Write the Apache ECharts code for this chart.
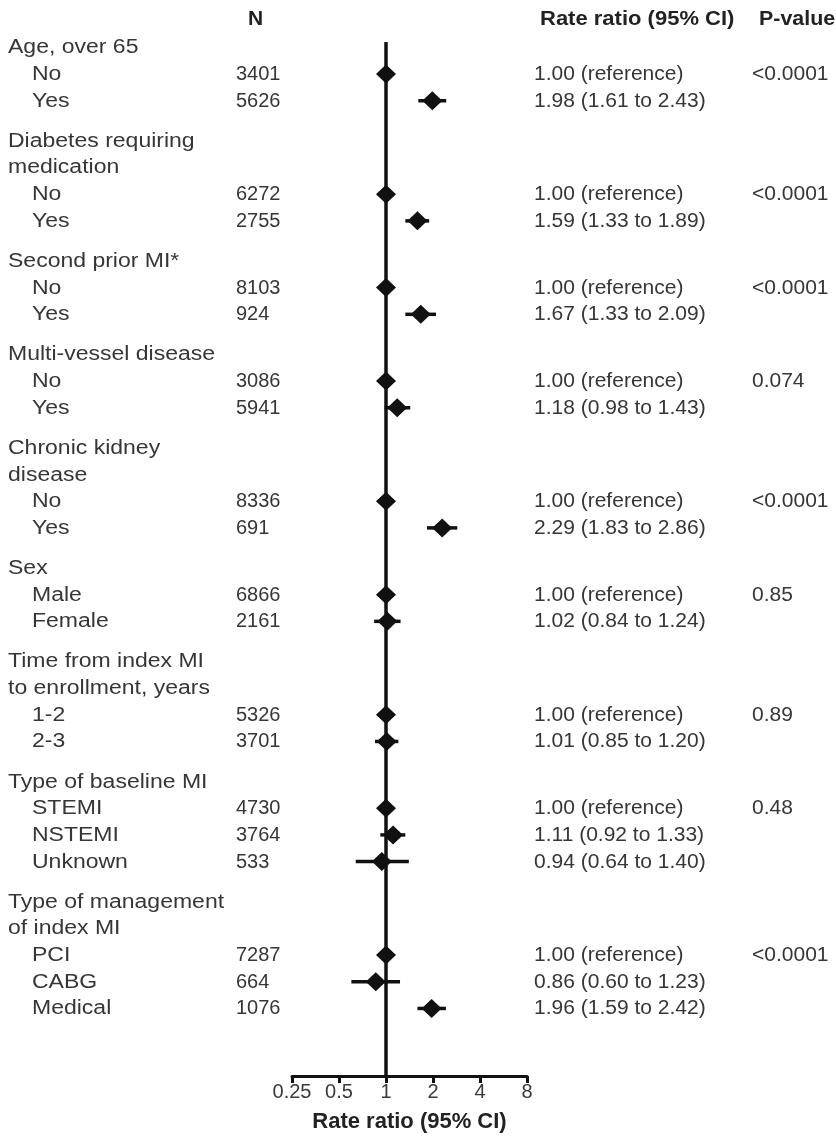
<!DOCTYPE html>
<html>
<head>
<meta charset="utf-8">
<script src="https://cdn.jsdelivr.net/npm/echarts@6/dist/echarts.min.js"></script>
<style>html,body{margin:0;padding:0;background:#fff;}#main{width:836px;height:1138px;}</style>
</head>
<body>
<div id="main"></div>
<script>
// ---- data ----
const groupHeaders = [
  ['Age, over 65'],
  ['Diabetes requiring', 'medication'],
  ['Second prior MI*'],
  ['Multi-vessel disease'],
  ['Chronic kidney', 'disease'],
  ['Sex'],
  ['Time from index MI', 'to enrollment, years'],
  ['Type of baseline MI'],
  ['Type of management', 'of index MI']
];
const groupSizes = [2, 2, 2, 2, 2, 2, 2, 3, 3];
const pValues = ['<0.0001', '<0.0001', '<0.0001', '0.074', '<0.0001', '0.85', '0.89', '0.48', '<0.0001'];
const subLabels = ['No', 'Yes', 'No', 'Yes', 'No', 'Yes', 'No', 'Yes', 'No', 'Yes',
  'Male', 'Female', '1-2', '2-3', 'STEMI', 'NSTEMI', 'Unknown', 'PCI', 'CABG', 'Medical'];
const nValues = [3401, 5626, 6272, 2755, 8103, 924, 3086, 5941, 8336, 691,
  6866, 2161, 5326, 3701, 4730, 3764, 533, 7287, 664, 1076];
const rateRatio = [1.00, 1.98, 1.00, 1.59, 1.00, 1.67, 1.00, 1.18, 1.00, 2.29,
  1.00, 1.02, 1.00, 1.01, 1.00, 1.11, 0.94, 1.00, 0.86, 1.96];
const ciLow = [null, 1.61, null, 1.33, null, 1.33, null, 0.98, null, 1.83,
  null, 0.84, null, 0.85, null, 0.92, 0.64, null, 0.60, 1.59];
const ciHigh = [null, 2.43, null, 1.89, null, 2.09, null, 1.43, null, 2.86,
  null, 1.24, null, 1.20, null, 1.33, 1.40, null, 1.23, 2.42];
const xTicks = [0.25, 0.5, 1, 2, 4, 8];
const headerN = 'N';
const headerRR = 'Rate ratio (95% CI)';
const headerP = 'P-value';
const axisTitle = 'Rate ratio (95% CI)';

// ---- layout (row positions in line units) ----
const lines = [];
let pos = 0.2;
let subIdx = 0;
groupHeaders.forEach((hdr, g) => {
  if (g > 0) pos += 0.5;
  hdr.forEach(t => { lines.push({ text: t, indent: false, pos: pos }); pos += 1; });
  for (let k = 0; k < groupSizes[g]; k++) {
    lines.push({ text: subLabels[subIdx], indent: true, pos: pos, sub: subIdx, first: k === 0, group: g });
    subIdx++; pos += 1;
  }
});
const subPos = lines.filter(l => l.sub !== undefined).map(l => l.pos);

function rrText(i) {
  if (ciLow[i] == null) return rateRatio[i].toFixed(2) + ' (reference)';
  return rateRatio[i].toFixed(2) + ' (' + ciLow[i].toFixed(2) + ' to ' + ciHigh[i].toFixed(2) + ')';
}

const ink = '#111111';
const textCol = '#363636';
const FONT = '"Liberation Sans", Arial, sans-serif';

const option = {
  animation: false,
  backgroundColor: '#ffffff',
  grid: { left: 292, right: 309, top: 42, bottom: 61 },
  xAxis: {
    type: 'log', logBase: 2, min: xTicks[0], max: xTicks[xTicks.length - 1], splitNumber: 5,
    position: 'bottom',
    axisLine: { show: true, onZero: false, lineStyle: { color: ink, width: 3 } },
    axisTick: { show: true, inside: false, length: 7, lineStyle: { color: ink, width: 3 } },
    axisLabel: { color: '#3a3a3a', fontSize: 20, fontFamily: FONT, margin: 6,
      formatter: v => String(Math.round(v * 100) / 100) },
    splitLine: { show: false },
    name: axisTitle, nameLocation: 'middle', nameGap: 35,
    nameTextStyle: { color: '#222', fontSize: 22, fontWeight: 'bold', fontFamily: FONT }
  },
  yAxis: { type: 'value', inverse: true, min: 0, max: 38.73, show: false },
  series: [
    {
      type: 'custom',
      name: 'ci',
      renderItem: (params, api) => {
        const lo = api.value(0), hi = api.value(1), y = api.value(2);
        const a = api.coord([lo, y]), b = api.coord([hi, y]);
        return { type: 'line', shape: { x1: a[0], y1: a[1], x2: b[0], y2: b[1] },
          style: { stroke: ink, lineWidth: 3.5 } };
      },
      data: ciLow.map((l, i) => l == null ? null : [l, ciHigh[i], subPos[i]]).filter(d => d),
      encode: { x: [0, 1], y: 2 },
      z: 3
    },
    {
      type: 'scatter',
      name: 'rr',
      symbol: 'diamond',
      symbolSize: [20, 19],
      itemStyle: { color: ink, opacity: 1 },
      data: rateRatio.map((v, i) => [v, subPos[i]]),
      z: 4,
      markLine: {
        silent: true, symbol: ['none', 'none'], label: { show: false },
        lineStyle: { color: ink, width: 3.5, type: 'solid' },
        data: [{ xAxis: 1 }]
      }
    }
  ]
};

const chart = echarts.init(document.getElementById('main'));
chart.setOption(option);

const yPix = p => chart.convertToPixel({ gridIndex: 0 }, [1, p])[1];
function txt(str, x, p, bold, sx) {
  return {
    type: 'text', x: x, y: Math.round(yPix(p)), scaleX: sx, scaleY: 1, silent: true,
    style: { text: str, fill: bold ? '#222' : textCol, font: (bold ? 'bold ' : '') + '20px ' + FONT,
      textAlign: 'left', textVerticalAlign: 'middle', align: 'left', verticalAlign: 'middle' }
  };
}
const headerPos = -0.85;
const g = [];
g.push(txt(headerN, 248, headerPos, true, 1.05));
g.push(txt(headerRR, 540, headerPos, true, 1.1));
g.push(txt(headerP, 759, headerPos, true, 1.07));
lines.forEach(l => {
  g.push(txt(l.text, l.indent ? 32 : 8, l.pos, false, 1.15));
  if (l.sub !== undefined) {
    g.push(txt(String(nValues[l.sub]), 236, l.pos, false, 1.0));
    g.push(txt(rrText(l.sub), 534, l.pos, false, 1.05));
    if (l.first) g.push(txt(pValues[l.group], 752, l.pos, false, 1.05));
  }
});
chart.setOption({ graphic: { elements: g } });
</script>
</body>
</html>
